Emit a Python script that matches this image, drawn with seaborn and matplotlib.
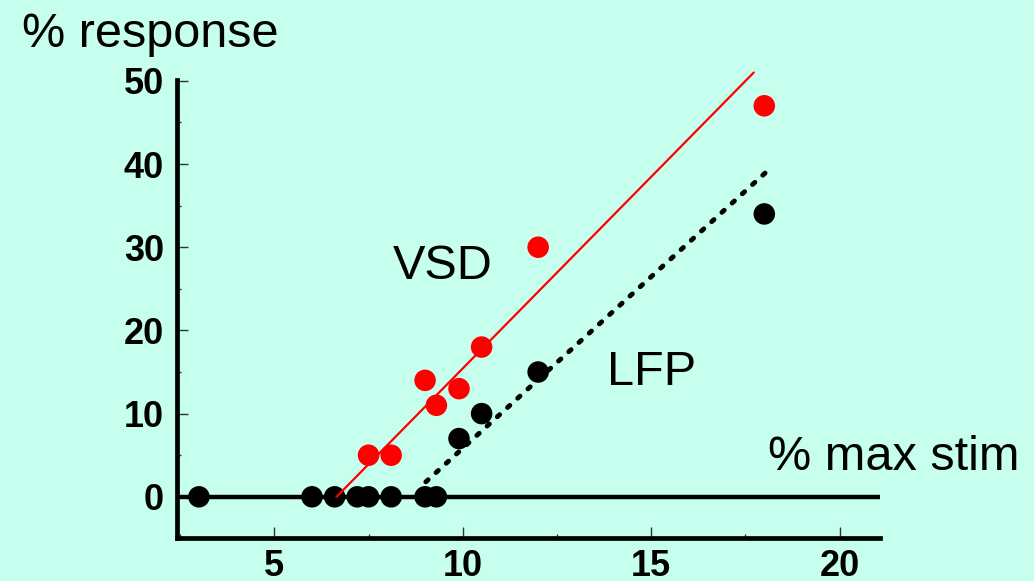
import matplotlib
matplotlib.use("Agg")
import matplotlib.pyplot as plt
import seaborn as sns
import pandas as pd
from matplotlib.ticker import MultipleLocator

# ---- data ----
lfp_x = [3, 6, 6.6, 7.2, 7.5, 8.1, 9.0, 9.3, 9.9, 10.5, 12, 18]
lfp_y = [0, 0, 0, 0, 0, 0, 0, 0, 7, 10, 15, 34]
vsd_x = [7.5, 8.1, 9.0, 9.3, 9.9, 10.5, 12, 18]
vsd_y = [5, 5, 14, 11, 13, 18, 30, 47]
vsd_fit_x = [6.65, 17.72]
vsd_fit_y = [0.0, 51.0]
lfp_fit_x = [9.02, 18.09]
lfp_fit_y = [1.8, 39.2]
x_ticks = [5, 10, 15, 20]
y_ticks = [0, 10, 20, 30, 40, 50]

BG = "#C6FFEE"
sns.set_theme(style="ticks")
plt.rcParams["font.family"] = ["Liberation Sans", "DejaVu Sans"]
plt.rcParams["text.color"] = "black"
plt.rcParams["xtick.color"] = "black"
plt.rcParams["ytick.color"] = "black"

fig = plt.figure(figsize=(10.34, 5.81), dpi=100, facecolor=BG)
ax = fig.add_axes([176.7/1034, 1-538/581, (880-176.7)/1034, (538-80)/581])
ax.set_facecolor(BG)

lfp = pd.DataFrame({"x": lfp_x, "y": lfp_y})
vsd = pd.DataFrame({"x": vsd_x, "y": vsd_y})
vfit = pd.DataFrame({"x": vsd_fit_x, "y": vsd_fit_y})
lfit = pd.DataFrame({"x": lfp_fit_x, "y": lfp_fit_y})

ax.axhline(0, color="black", lw=3.2, zorder=1)
sns.scatterplot(data=lfp, x="x", y="y", color="black", s=240, edgecolor="none", ax=ax, zorder=3, clip_on=False)
sns.scatterplot(data=vsd, x="x", y="y", color="#FF0000", s=240, edgecolor="none", ax=ax, zorder=3, clip_on=False)
sns.lineplot(data=vfit, x="x", y="y", color="#FF0000", lw=1.6, ax=ax, zorder=4, clip_on=False)
sns.lineplot(data=lfit, x="x", y="y", color="black", lw=3.5, ax=ax, zorder=4,
             linestyle=(0, (0.64, 2.2)), dash_capstyle="round", clip_on=False)

ax.set_xlim(2.41, 21.07)
ax.set_ylim(-4.95, 50.1)
ax.set_xticks(x_ticks)
ax.set_yticks(y_ticks)
ax.xaxis.set_minor_locator(MultipleLocator(2.5))
ax.yaxis.set_minor_locator(MultipleLocator(5))
ax.tick_params(axis="both", which="major", direction="in", length=8, width=1, color="#333333",
               labelsize=26, labelcolor="black", pad=9)
ax.tick_params(axis="both", which="minor", direction="in", length=3, width=1, color="#333333")
ax.tick_params(axis="x", which="major", pad=8)
for lab in ax.get_xticklabels() + ax.get_yticklabels():
    lab.set_fontweight("bold")
ax.set_xlabel("")
ax.set_ylabel("")
for s in ["top", "right"]:
    ax.spines[s].set_visible(False)
for s in ["left", "bottom"]:
    ax.spines[s].set_linewidth(3.4)
    ax.spines[s].set_color("black")

fig.text(22/1034, 1-47/581, "% response", fontsize=35, ha="left", va="baseline", color="black")
fig.text(768/1034, 1-470/581, "% max stim", fontsize=35, ha="left", va="baseline", color="black")
ax.text(8.15, 26.2, "VSD", fontsize=35, ha="left", va="baseline", color="black")
ax.text(13.82, 13.46, "LFP", fontsize=35, ha="left", va="baseline", color="black")

fig.savefig("out.png", dpi=100, facecolor=BG)
